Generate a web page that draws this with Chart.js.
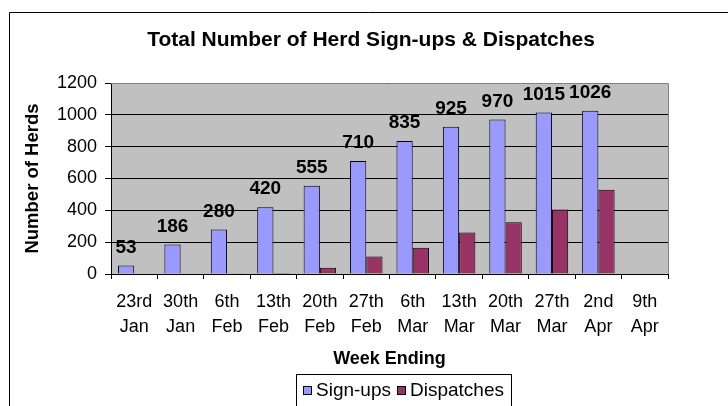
<!DOCTYPE html>
<html>
<head>
<meta charset="utf-8">
<script src="https://cdn.jsdelivr.net/npm/chart.js@4.4.1/dist/chart.umd.min.js"></script>
<style>
    html, body { margin: 0; padding: 0; background: #fff; }
    #wrap { width: 728px; height: 406px; position: relative; }
</style>
</head>
<body>
<div id="wrap"><canvas id="herdChart"></canvas></div>
<script>
// Chart data
const weekLabels = [
    ['23rd', 'Jan'], ['30th', 'Jan'], ['6th', 'Feb'], ['13th', 'Feb'],
    ['20th', 'Feb'], ['27th', 'Feb'], ['6th', 'Mar'], ['13th', 'Mar'],
    ['20th', 'Mar'], ['27th', 'Mar'], ['2nd', 'Apr'], ['9th', 'Apr']
];
const signUps = [53, 186, 280, 420, 555, 710, 835, 925, 970, 1015, 1026, null];
const dispatches = [0, 0, 5, 6, 40, 110, 165, 260, 325, 405, 530, null];
const yMin = 0;
const yMax = 1200;
const yStep = 200;

const chartTitle = 'Total Number of Herd Sign-ups & Dispatches';
const FONT = '"Liberation Sans", Arial, sans-serif';

// Grey plot background, drawn before the grid
const plotBackground = {
    id: 'plotBackground',
    beforeDraw(chart) {
        const { ctx, chartArea: a } = chart;
        ctx.save();
        ctx.fillStyle = '#fff';
        ctx.fillRect(0, 0, chart.width, chart.height);
        ctx.fillStyle = '#c0c0c0';
        ctx.fillRect(a.left, a.top, a.right - a.left, a.bottom - a.top);
        ctx.restore();
    }
};

// Value labels over the sign-up bars
const valueLabels = {
    id: 'valueLabels',
    afterDatasetsDraw(chart) {
        const ctx = chart.ctx;
        const meta = chart.getDatasetMeta(0);
        ctx.save();
        ctx.font = 'bold 19px ' + FONT;
        ctx.fillStyle = '#000';
        ctx.textAlign = 'center';
        ctx.textBaseline = 'middle';
        meta.data.forEach((bar, i) => {
            const v = chart.data.datasets[0].data[i];
            if (v === null || v === undefined) return;
            ctx.fillText(String(v), bar.x, bar.y - 18);
        });
        ctx.restore();
    }
};

// Frame, title and legend in the old spreadsheet style
const frameAndLegend = {
    id: 'frameAndLegend',
    afterDraw(chart) {
        const { ctx, chartArea: a } = chart;
        ctx.save();

        // plot area border (top/right)
        ctx.strokeStyle = '#808080';
        ctx.lineWidth = 1;
        ctx.beginPath();
        ctx.moveTo(a.left, a.top + 0.5);
        ctx.lineTo(a.right + 0.5, a.top + 0.5);
        ctx.lineTo(a.right + 0.5, a.bottom);
        ctx.stroke();

        // outer chart border
        ctx.strokeStyle = '#000';
        ctx.beginPath();
        ctx.moveTo(9.5, chart.height);
        ctx.lineTo(9.5, 12.5);
        ctx.lineTo(chart.width, 12.5);
        ctx.stroke();

        // title
        ctx.fillStyle = '#000';
        ctx.font = 'bold 21px ' + FONT;
        ctx.textAlign = 'center';
        ctx.textBaseline = 'middle';
        ctx.fillText(chartTitle, 371, 40);

        // legend
        ctx.font = '19px ' + FONT;
        ctx.textAlign = 'left';
        const items = chart.data.datasets;
        const box = 9;
        const widths = items.map(d => ctx.measureText(d.label).width);
        const legendW = items.reduce((s, d, i) => s + box + 4 + widths[i] + 6, 0) + 9;
        const legendRight = 511.5;
        const legendX = Math.round(legendRight - legendW) + 0.5;
        const legendY = 374.5;
        ctx.strokeStyle = '#000';
        ctx.strokeRect(legendX, legendY, legendRight - legendX, 40);
        let x = Math.round(legendX + 6);
        const cy = 391;
        items.forEach((d, i) => {
            ctx.fillStyle = d.backgroundColor;
            ctx.fillRect(x, cy - 5, box, box);
            ctx.strokeRect(x + 0.5, cy - 4.5, box - 1, box - 1);
            ctx.fillStyle = '#000';
            ctx.fillText(d.label, x + box + 4, cy);
            x = Math.round(x + box + 4 + widths[i] + 6);
        });

        ctx.restore();
    }
};

const ctx = document.getElementById('herdChart').getContext('2d');
new Chart(ctx, {
    type: 'bar',
    data: {
        labels: weekLabels,
        datasets: [
            {
                label: 'Sign-ups',
                data: signUps,
                backgroundColor: '#9999ff',
                borderColor: '#000',
                borderWidth: 1,
                categoryPercentage: 0.7,
                barPercentage: 1.0
            },
            {
                label: 'Dispatches',
                data: dispatches,
                backgroundColor: '#993366',
                borderColor: '#000',
                borderWidth: 1,
                categoryPercentage: 0.7,
                barPercentage: 1.0
            }
        ]
    },
    options: {
        responsive: true,
        maintainAspectRatio: false,
        animation: false,
        layout: {
            padding: { left: 0, top: 83, right: 60, bottom: 0 }
        },
        plugins: {
            legend: { display: false },
            title: { display: false },
            tooltip: { enabled: false }
        },
        scales: {
            x: {
                offset: true,
                grid: {
                    offset: true,
                    drawOnChartArea: false,
                    drawTicks: true,
                    tickLength: 5,
                    color: '#000'
                },
                border: { color: '#000', width: 1 },
                ticks: {
                    color: '#000',
                    padding: 10,
                    maxRotation: 0,
                    autoSkip: false,
                    font: { family: FONT, size: 18, lineHeight: 1.42 }
                },
                title: {
                    display: true,
                    text: 'Week Ending',
                    color: '#000',
                    font: { family: FONT, size: 18, weight: 'bold', lineHeight: 1.2 },
                    padding: { top: 0, bottom: 36 }
                },
                afterFit(scale) {
                    scale.height = 132;
                    scale.paddingLeft = 0;
                    scale.paddingRight = 0;
                }
            },
            y: {
                min: yMin,
                max: yMax,
                ticks: {
                    stepSize: yStep,
                    color: '#000',
                    padding: 8,
                    font: { family: FONT, size: 18 },
                    callback: value => String(value)
                },
                grid: {
                    color: '#000',
                    tickLength: 6,
                    drawTicks: true
                },
                border: { color: '#000', width: 1 },
                title: {
                    display: true,
                    text: 'Number of Herds',
                    color: '#000',
                    font: { family: FONT, size: 18.5, weight: 'bold', lineHeight: 1.2 },
                    padding: { top: 22, bottom: 0 }
                },
                afterFit(scale) {
                    scale.width = 111;
                    scale.paddingTop = 0;
                    scale.paddingBottom = 0;
                }
            }
        }
    },
    plugins: [plotBackground, valueLabels, frameAndLegend]
});
</script>
</body>
</html>
